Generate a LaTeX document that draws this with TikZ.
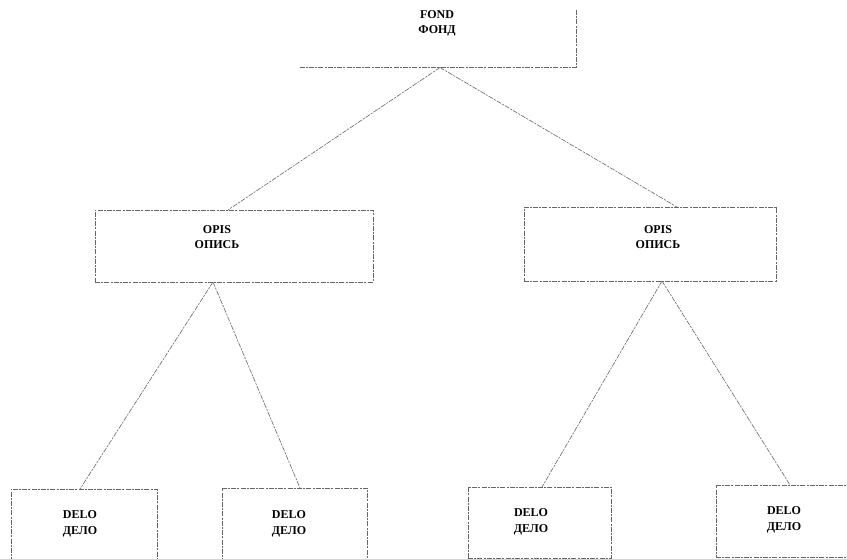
\documentclass[tikz,border=0pt]{standalone}
\usepackage{fontspec}
\setmainfont{Liberation Serif}
\tikzset{
  ln/.style={draw=black!60, line width=0.6pt, dash pattern=on 5pt off 1.2pt on 2pt off 1.2pt},
  boxnode/.style={ln, rectangle, inner sep=0pt, outer sep=0pt},
  lbl/.style={font=\fontsize{12}{15.5}\selectfont\bfseries, align=center, inner sep=0pt},
}
\begin{document}
\begin{tikzpicture}[x=1pt,y=-1pt]
\clip (0,0) rectangle (847,559);
\fill[white] (0,0) rectangle (847,559);
% top box (only right and bottom edges visible)
\node[rectangle, inner sep=0pt, outer sep=0pt, minimum width=276pt, minimum height=87.5pt] (fond) at (438,23.75) {};
\node[lbl] (fondt) at (437,23.5) {FOND\\ФОНД};
\draw[ln] ([yshift=-30]fond.north east) -- (fond.south east) -- (fond.south west);
% second level
\node[boxnode, minimum width=278pt, minimum height=72pt] (opisL) at (234,246) {};
\node[lbl] (opisLt) at (217,237) {OPIS\\ОПИСЬ};
\node[boxnode, minimum width=252pt, minimum height=74pt] (opisR) at (650,244) {};
\node[lbl] (opisRt) at (658,237) {OPIS\\ОПИСЬ};
% third level
\node[boxnode, minimum width=146pt, minimum height=72pt] (delo1) at (84,525) {};
\node[lbl] (delo1t) at (80,524) {DELO\\ДЕЛО};
\node[boxnode, minimum width=145pt, minimum height=72pt] (delo2) at (294.5,524) {};
\node[lbl] (delo2t) at (289,524) {DELO\\ДЕЛО};
\node[boxnode, minimum width=143pt, minimum height=71pt] (delo3) at (539.5,522.5) {};
\node[lbl] (delo3t) at (531,522) {DELO\\ДЕЛО};
\node[boxnode, minimum width=145pt, minimum height=72pt] (delo4) at (788.5,521) {};
\node[lbl] (delo4t) at (784,520) {DELO\\ДЕЛО};
% connectors
\draw[ln] ([xshift=2]fond.south) -- ([xshift=-6]opisL.north);
\draw[ln] ([xshift=2]fond.south) -- ([xshift=27]opisR.north);
\draw[ln] ([xshift=-21]opisL.south) -- ([xshift=-4]delo1.north);
\draw[ln] ([xshift=-21]opisL.south) -- ([xshift=5.5]delo2.north);
\draw[ln] ([xshift=12]opisR.south) -- ([xshift=2.5]delo3.north);
\draw[ln] ([xshift=12]opisR.south) -- ([xshift=1.5]delo4.north);
\end{tikzpicture}
\end{document}
